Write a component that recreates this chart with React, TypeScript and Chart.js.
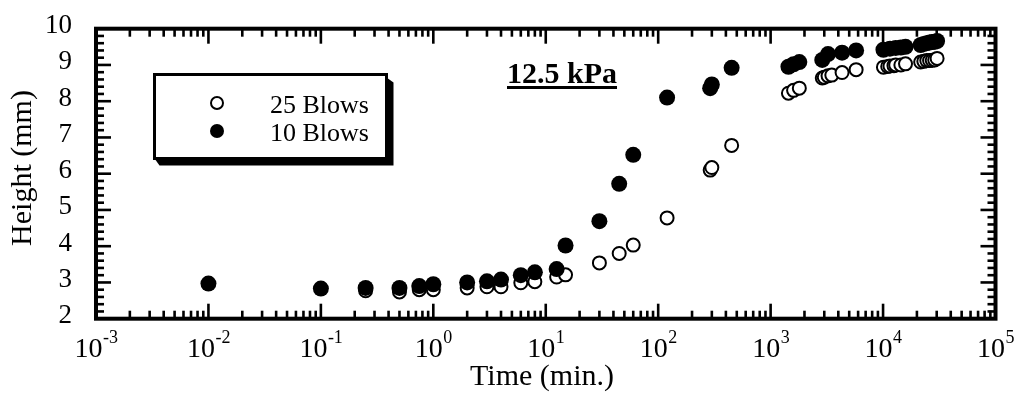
import React, { useEffect, useRef } from "react";
import { Chart, registerables } from "chart.js";

Chart.register(...registerables);

// ---------- data ----------
const blows25Time = [
  0.25, 0.5, 0.75, 1, 2, 3, 4, 6, 8, 12.5, 15, 30, 45, 60, 120, 290, 300, 450,
  1440, 1600, 1800, 2880, 3000, 3240, 3500, 4320, 5760,
  10080, 11000, 11520, 12500, 12960, 14400, 15840,
  21600, 23040, 24480, 25920, 27360, 28800, 30240,
];
const blows25Height = [
  2.77, 2.74, 2.8, 2.8, 2.85, 2.88, 2.88, 2.99, 3.02, 3.15, 3.21, 3.54, 3.8, 4.03, 4.78, 6.1, 6.17, 6.78,
  8.22, 8.3, 8.36, 8.64, 8.66, 8.7, 8.72, 8.79, 8.87,
  8.94, 8.96, 8.97, 8.98, 9.0, 9.0, 9.03,
  9.08, 9.1, 9.12, 9.12, 9.13, 9.14, 9.18,
];
const blows10Time = [
  0.01, 0.1, 0.25, 0.5, 0.75, 1, 2, 3, 4, 6, 8, 12.5, 15, 30, 45, 60, 120, 290, 300, 450,
  1440, 1600, 1800, 2880, 3240, 4320, 5760,
  10080, 11520, 12960, 14400, 15840,
  21600, 23040, 24480, 25920, 27360, 28800, 30240,
];
const blows10Height = [
  2.97, 2.83, 2.85, 2.85, 2.9, 2.95, 3.0, 3.03, 3.08, 3.2, 3.28, 3.37, 4.02, 4.69, 5.72, 6.52, 8.1, 8.36, 8.46, 8.92,
  8.95, 9.02, 9.08, 9.14, 9.3, 9.34, 9.4,
  9.42, 9.45, 9.47, 9.48, 9.5,
  9.55, 9.58, 9.6, 9.62, 9.63, 9.64, 9.66,
];

const xDecadeExponents = [-3, -2, -1, 0, 1, 2, 3, 4, 5];
const xMinorMultipliers = [2, 3, 4, 5, 6, 7, 8, 9];
const yTickValues = [2, 3, 4, 5, 6, 7, 8, 9, 10];
const yMinorStep = 0.2;
const xAxisTitle = "Time (min.)";
const yAxisTitle = "Height (mm)";
const legendLabels = ["25 Blows", "10 Blows"];
const annotationText = "12.5 kPa";

const SERIF = '"Liberation Serif", "Times New Roman", Times, serif';

const drawPlugin = {
  id: "customFrame",
  beforeDraw(chart: any) {
    const ctx = chart.ctx;
    ctx.save();
    ctx.fillStyle = "#fff";
    ctx.fillRect(0, 0, chart.width, chart.height);
    ctx.restore();
  },
  afterDraw(chart: any) {
    const ctx: CanvasRenderingContext2D = chart.ctx;
    const xs = chart.scales.x;
    const ys = chart.scales.y;
    const { left, right, top, bottom } = chart.chartArea;
    ctx.save();
    ctx.strokeStyle = "#000";
    ctx.fillStyle = "#000";
    ctx.lineCap = "butt";

    const line = (x1: number, y1: number, x2: number, y2: number) => {
      ctx.beginPath();
      ctx.moveTo(x1, y1);
      ctx.lineTo(x2, y2);
      ctx.stroke();
    };

    // x ticks (bottom and top, inward)
    ctx.lineWidth = 2.6;
    xDecadeExponents.forEach((e, i) => {
      const major = Math.pow(10, e);
      const px = xs.getPixelForValue(major);
      line(px, bottom, px, bottom - 15);
      line(px, top, px, top + 15);
      if (i < xDecadeExponents.length - 1) {
        xMinorMultipliers.forEach((m) => {
          const p = xs.getPixelForValue(m * major);
          line(p, bottom, p, bottom - 8);
          line(p, top, p, top + 8);
        });
      }
    });

    // y ticks (left and right, inward)
    const yMin = yTickValues[0];
    const yMax = yTickValues[yTickValues.length - 1];
    const nSteps = Math.round((yMax - yMin) / yMinorStep);
    for (let k = 0; k <= nSteps; k++) {
      const v = yMin + k * yMinorStep;
      const py = ys.getPixelForValue(v);
      const isMajor = k % 5 === 0;
      const len = isMajor ? 15 : 8;
      line(left, py, left + len, py);
      line(right, py, right - len, py);
    }

    // frame
    ctx.lineWidth = 4;
    ctx.lineJoin = "miter";
    ctx.strokeRect(left, top, right - left, bottom - top);

    // y tick labels
    ctx.font = `27px ${SERIF}`;
    ctx.textAlign = "right";
    ctx.textBaseline = "alphabetic";
    yTickValues.forEach((v) => {
      const py = ys.getPixelForValue(v);
      ctx.fillText(String(v), 72, py + 4.5);
    });

    // x tick labels 10^e
    xDecadeExponents.forEach((e) => {
      const px = xs.getPixelForValue(Math.pow(10, e));
      ctx.font = `28px ${SERIF}`;
      const wBase = ctx.measureText("10").width;
      ctx.font = `18px ${SERIF}`;
      const expStr = String(e);
      const wExp = ctx.measureText(expStr).width;
      const start = px - (wBase + wExp) / 2;
      ctx.textAlign = "left";
      ctx.font = `28px ${SERIF}`;
      ctx.fillText("10", start, 357);
      ctx.font = `18px ${SERIF}`;
      ctx.fillText(expStr, start + wBase + 0.5, 343);
    });

    // axis titles
    ctx.font = `30px ${SERIF}`;
    ctx.textAlign = "center";
    ctx.fillText(xAxisTitle, 542, 385);
    ctx.save();
    ctx.translate(31, 168);
    ctx.rotate(-Math.PI / 2);
    ctx.fillText(yAxisTitle, 0, 0);
    ctx.restore();

    // legend box with shadow
    const bx = 154.5, by = 74.5, bw = 232, bh = 84;
    ctx.fillStyle = "#000";
    ctx.beginPath();
    ctx.moveTo(bx + bw, by + 3);
    ctx.lineTo(bx + bw + 7, by + 8);
    ctx.lineTo(bx + bw + 7, by + bh + 7);
    ctx.lineTo(bx + 5, by + bh + 7);
    ctx.lineTo(bx, by + bh);
    ctx.closePath();
    ctx.fill();
    ctx.fillStyle = "#fff";
    ctx.fillRect(bx, by, bw, bh);
    ctx.lineWidth = 3;
    ctx.strokeStyle = "#000";
    ctx.strokeRect(bx, by, bw, bh);

    // legend markers
    ctx.lineWidth = 2;
    ctx.beginPath();
    ctx.arc(217, 103, 6, 0, Math.PI * 2);
    ctx.fillStyle = "#fff";
    ctx.fill();
    ctx.stroke();
    ctx.beginPath();
    ctx.arc(217, 131, 7, 0, Math.PI * 2);
    ctx.fillStyle = "#000";
    ctx.fill();

    ctx.font = `26px ${SERIF}`;
    ctx.textAlign = "left";
    ctx.fillText(legendLabels[0], 270, 113);
    ctx.fillText(legendLabels[1], 270, 141);

    // annotation
    ctx.font = `bold 30px ${SERIF}`;
    ctx.textAlign = "left";
    ctx.fillText(annotationText, 507, 83);
    const aw = ctx.measureText(annotationText).width;
    ctx.fillRect(507, 86, aw, 3);

    ctx.restore();
  },
};

export default function App() {
  const canvasRef = useRef<HTMLCanvasElement | null>(null);

  useEffect(() => {
    const canvas = canvasRef.current;
    if (!canvas) return;
    const open = blows25Time.map((t, i) => ({ x: t, y: blows25Height[i] }));
    const filled = blows10Time.map((t, i) => ({ x: t, y: blows10Height[i] }));
    const chart = new Chart(canvas, {
      type: "scatter",
      data: {
        datasets: [
          {
            label: legendLabels[1],
            data: filled,
            pointRadius: 8,
            pointBackgroundColor: "#000",
            pointBorderColor: "#000",
            pointBorderWidth: 0,
            order: 0,
          },
          {
            label: legendLabels[0],
            data: open,
            pointRadius: 6.5,
            pointBackgroundColor: "#fff",
            pointBorderColor: "#000",
            pointBorderWidth: 2,
            order: 1,
          },
        ],
      },
      options: {
        animation: false,
        responsive: false,
        devicePixelRatio: 1,
        events: [],
        layout: { padding: { left: 96, right: 27.5, top: 28.7, bottom: 80.3 } },
        plugins: { legend: { display: false }, tooltip: { enabled: false } },
        scales: {
          x: { type: "logarithmic", min: 1e-3, max: 1e5, display: false },
          y: { type: "linear", min: 2, max: 10, display: false },
        },
      },
      plugins: [drawPlugin],
    } as any);
    return () => chart.destroy();
  }, []);

  return (
    <div style={{ position: "absolute", left: 0, top: 0, width: 1023, height: 399, background: "#fff" }}>
      <canvas ref={canvasRef} width={1023} height={399} style={{ display: "block" }} />
    </div>
  );
}
